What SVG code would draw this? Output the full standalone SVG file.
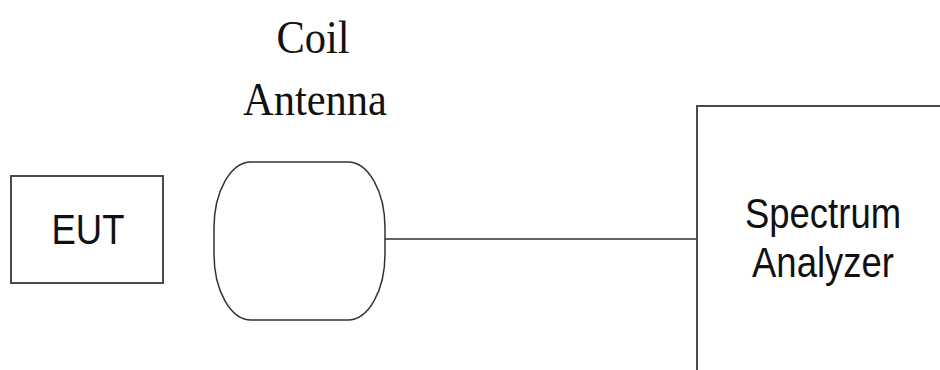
<svg xmlns="http://www.w3.org/2000/svg" width="940" height="370" viewBox="0 0 940 370">
<style>
.box{fill:#fff;stroke:#4a4a4a;stroke-width:2}
.coil{fill:#fff;stroke:#333;stroke-width:1.5}
.wire{stroke:#333;stroke-width:1.5;fill:none}
.sans{font-family:"Liberation Sans",Arial,sans-serif;font-size:36.5px;fill:#111}
.serif{font-family:"Liberation Serif","Times New Roman",serif;font-size:42.5px;fill:#111}
</style>
<rect width="940" height="370" fill="#fff"/>
<g id="connectors">
<line class="wire" x1="385" y1="239" x2="697" y2="239"/>
</g>
<g id="eut">
<rect class="box" x="11" y="176" width="152" height="107"/>
<text class="sans" text-anchor="middle" transform="translate(88,243.5) scale(1,1.18)">EUT</text>
</g>
<g id="coil-antenna">
<path class="coil" d="M251 162 H348 A37 66 0 0 1 385 228 V254 A37 66 0 0 1 348 320 H251 A37 66 0 0 1 214 254 V228 A37 66 0 0 1 251 162 Z"/>
<text class="serif" text-anchor="middle" transform="translate(313,53) scale(1,1.08)">Coil</text>
<text class="serif" text-anchor="middle" transform="translate(315,115) scale(1,1.08)">Antenna</text>
</g>
<g id="spectrum-analyzer">
<rect class="box" x="697" y="106" width="260" height="280"/>
<text class="sans" text-anchor="middle" transform="translate(823,228) scale(1,1.15)">Spectrum</text>
<text class="sans" text-anchor="middle" transform="translate(823,277) scale(1,1.15)">Analyzer</text>
</g>
</svg>
